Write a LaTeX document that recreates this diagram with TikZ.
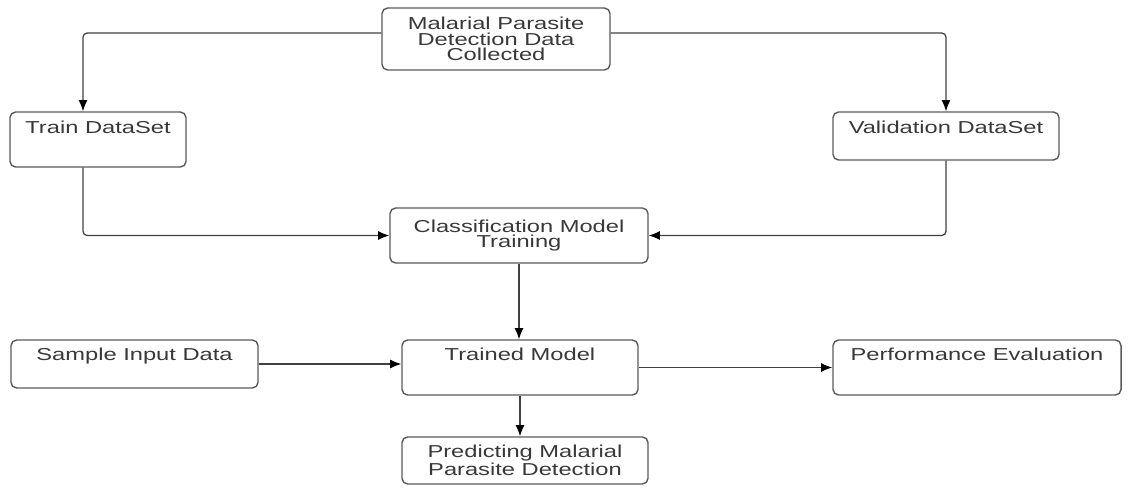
\documentclass[tikz,border=0pt]{standalone}
\usepackage{fontspec}
\setmainfont{Liberation Sans}[FakeStretch=1.37]
\usetikzlibrary{positioning}
\usetikzlibrary{arrows.meta}
\definecolor{boxline}{HTML}{5A5A5A}
\definecolor{boxtext}{HTML}{383838}
\tikzset{
    procbox/.style = {rectangle, rounded corners=4pt, draw=boxline, line width=1pt, align=center, text=boxtext, inner sep=0pt},
    toplbl/.style = {anchor=base, yshift=-0.56cm, text=boxtext, inner sep=0pt},
    flow/.style = {line width=0.9pt, draw=black!75, rounded corners=3pt, -{Latex[length=8pt,width=6.5pt,color=black]}},
    every picture/.style={font issue=\fontsize{12.3}{10.9}},
    font issue/.style={execute at begin picture={#1\selectfont}}
}
\begin{document}
\begin{tikzpicture}[x=0.025cm,y=-0.025cm]
%
\node[procbox, minimum width=5.7cm, minimum height=1.55cm] at (496,39) (src) {Malarial Parasite\\Detection Data\\Collected};
\node[procbox, minimum width=4.4cm, minimum height=1.375cm, label={[toplbl]north:Train DataSet}] at (98,139.5) (train) {};
\node[procbox, minimum width=5.65cm, minimum height=1.2cm, label={[toplbl]north:Validation DataSet}] at (946,136) (valid) {};
\node[procbox, minimum width=6.45cm, minimum height=1.375cm] at (519,235.5) (class) {Classification Model\\Training};
\node[procbox, minimum width=6.175cm, minimum height=1.2cm, label={[toplbl, yshift=0.025cm]north:Sample Input Data}] at (134.5,364) (sample) {};
\node[procbox, minimum width=5.9cm, minimum height=1.375cm, label={[toplbl, yshift=0.025cm]north:Trained Model}] at (520,367.5) (trained) {};
\node[procbox, minimum width=7.2cm, minimum height=1.375cm, label={[toplbl, yshift=0.025cm]north:Performance Evaluation}] at (977,367.5) (perf) {};
\node[procbox, minimum width=6.15cm, minimum height=1.175cm] at (525,460.5) (predict) {Predicting Malarial\\Parasite Detection};
%
\draw[flow] ([yshift=0.15cm]src.west) -| ([xshift=-0.375cm]train.north);
\draw[flow] ([yshift=0.15cm]src.east) -| (valid.north);
\draw[flow] ([xshift=-0.375cm]train.south) |- (class.west);
\draw[flow] (valid.south) |- (class.east);
\draw[flow] (class.south) -- (class.south |- trained.north);
\draw[flow] (sample.east) -- (sample.east -| trained.west);
\draw[flow] (trained.east) -- (perf.west);
\draw[flow] (trained.south) -- (trained.south |- predict.north);

\path[use as bounding box] (0,0) rectangle (1137,502);

\end{tikzpicture}
\end{document}
